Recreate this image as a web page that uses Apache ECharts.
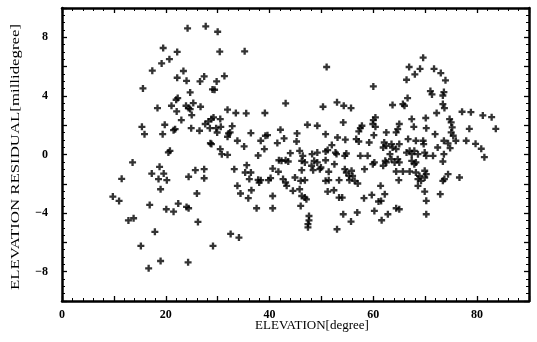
<!DOCTYPE html>
<html>
<head>
<meta charset="utf-8">
<script src="https://cdn.jsdelivr.net/npm/echarts@6/dist/echarts.min.js"></script>
<style>
  html, body { margin: 0; padding: 0; background: #fff; }
  #chart { width: 537px; height: 342px; }
</style>
</head>
<body>
<div id="chart"></div>
<script>
// [elevation (degree), residual (millidegree)], by region

// sparse points: low elevations and outliers
const outerLeft = [
  [9.8, -2.87], [11.0, -3.17], [11.5, -1.66], [12.8, -4.5], [15.2, -6.24], [15.6, 4.51],
  [16.7, -7.77], [17.4, 5.72], [17.9, -5.28], [19.0, -7.27], [19.2, 6.22], [19.5, 7.27],
  [20.7, 6.51], [22.2, 7.0], [22.2, 5.24], [23.4, 5.70], [24.0, 5.03], [24.2, 8.61],
  [24.3, -7.36], [26.2, -4.6], [26.6, 4.99], [27.4, 5.33], [27.7, 8.75], [29.0, 4.44],
  [29.4, 4.42], [29.1, -6.24], [29.8, 4.99], [30.0, 8.38], [30.4, 7.02], [31.3, 5.35],
  [32.5, -5.42], [34.1, -5.67], [35.2, 7.04]
]

const outerRight = [
  [51.0, 5.97], [60.0, 4.65], [66.4, 5.1], [66.6, 3.85], [66.9, 5.97], [68.0, 5.47],
  [69.0, 5.85], [69.6, 6.61], [71.0, 4.33], [71.3, 4.1], [71.7, 5.85], [73.0, 5.56],
  [73.4, 4.03], [73.6, 4.26], [73.9, 5.06], [78.5, 1.75], [78.8, 2.89], [79.7, 0.73],
  [80.8, 0.39], [81.1, 2.67], [81.4, -0.18], [82.8, 2.55], [83.6, 1.75]
]

// 13 - 31 degree
const band20 = [
  [24.7, 4.24], [22.3, 3.85], [22.0, 3.74], [21.1, 3.33], [23.9, 3.33], [24.4, 3.17],
  [24.7, 3.10], [25.3, 3.51], [26.7, 3.26], [18.4, 3.17], [22.1, 2.94], [25.0, 2.69],
  [23.0, 2.35], [19.8, 2.03], [15.4, 1.89], [27.6, 2.08], [28.2, 2.26], [28.8, 2.42],
  [29.2, 2.53], [30.5, 2.42], [28.5, 1.80], [29.7, 1.80], [30.6, 1.89], [15.9, 1.39],
  [19.4, 1.39], [21.5, 1.66], [21.8, 1.73], [24.9, 1.80], [26.5, 1.62], [29.9, 1.50],
  [28.6, 0.77], [28.8, 0.71], [30.5, 0.37], [30.8, 0.02], [20.5, 0.14], [20.8, 0.25],
  [13.6, -0.54], [18.8, -0.84], [17.3, -1.30], [19.6, -1.30], [18.6, -1.68], [20.2, -1.75],
  [25.7, -1.07], [27.4, -1.0], [27.4, -1.62], [24.4, -1.52], [19.0, -2.37], [26.0, -2.66],
  [16.9, -3.44], [22.4, -3.35], [20.1, -3.74], [21.5, -3.9], [24.0, -3.58], [24.4, -3.67],
  [13.8, -4.35]
]

// 31 - 48 degree
const band40 = [
  [43.1, 3.49], [33.5, 2.83], [35.5, 2.81], [39.1, 2.83], [47.3, 2.03], [32.8, 1.94],
  [31.9, 3.06], [32.1, 1.44], [31.9, 1.21], [32.4, 1.51], [31.9, -0.02], [36.4, 1.46],
  [39.6, 1.32], [39.2, 1.28], [42.1, 1.69], [45.3, 1.44], [33.8, 0.94], [38.3, 0.94],
  [42.8, 1.10], [41.5, 0.78], [45.2, 0.89], [35.1, 0.55], [39.0, 0.37], [37.8, -0.07],
  [44.0, 0.09], [45.8, 0.25], [46.4, -0.09], [41.8, -0.39], [42.3, -0.43], [43.1, -0.39],
  [43.6, -0.48], [46.2, -0.43], [46.8, -0.54], [35.6, -0.73], [33.2, -1.0], [40.6, -0.96],
  [46.2, -1.07], [41.7, -1.18], [35.3, -1.23], [36.4, -1.23], [36.1, -1.68], [37.8, -1.73],
  [38.3, -1.75], [38.0, -1.91], [39.8, -1.75], [40.2, -1.61], [42.6, -1.68], [43.1, -1.91],
  [43.3, -2.14], [44.9, -1.57], [46.0, -1.80], [46.8, -1.75], [33.8, -2.14], [36.5, -2.44],
  [44.5, -2.48], [45.8, -2.37], [34.4, -2.66], [35.9, -2.98], [40.6, -2.83], [46.2, -2.83],
  [46.8, -2.94], [47.1, -3.06], [37.5, -3.67], [40.6, -3.67], [46.0, -3.51], [47.6, -4.2],
  [47.6, -4.5], [47.4, -4.75], [47.4, -4.97]
]

// 48 - 63 degree
const band55 = [
  [50.3, 3.26], [53.0, 3.56], [54.3, 3.33], [55.7, 3.17], [49.2, 1.96], [54.2, 2.19],
  [60.4, 2.53], [60.0, 2.35], [59.9, 2.08], [60.4, 1.89], [57.8, 1.96], [57.5, 1.80],
  [57.2, 1.58], [62.5, 1.51], [50.8, 1.39], [53.1, 1.16], [54.6, 1.01], [56.7, 1.05],
  [57.2, 0.89], [60.1, 1.32], [59.2, 0.82], [52.0, 0.64], [62.1, 0.82], [62.5, 0.59],
  [61.9, 0.48], [51.2, 0.30], [50.8, 0.21], [48.2, 0.03], [49.2, 0.13], [52.7, 0.13],
  [52.9, 0.03], [54.8, 0.07], [54.5, -0.09], [57.5, -0.09], [58.9, -0.09], [48.6, -0.43],
  [49.2, -0.54], [50.8, -0.39], [52.5, -0.66], [60.2, -0.54], [59.9, -0.66], [61.9, -0.77],
  [62.5, -0.54], [62.3, -0.43], [48.1, -0.77], [48.4, -1.07], [49.7, -1.0], [49.9, -0.89],
  [51.4, -1.18], [54.5, -1.0], [54.8, -1.23], [55.3, -1.46], [55.8, -1.11], [56.0, -1.46],
  [55.4, -1.75], [58.3, -1.0], [50.8, -1.80], [51.4, -1.75], [53.4, -1.75], [56.4, -1.80],
  [57.0, -1.98], [61.4, -2.14], [51.2, -2.53], [52.4, -2.44], [53.4, -2.94], [54.0, -2.94],
  [58.2, -2.98], [59.7, -2.76], [62.2, -2.71], [61.5, -3.17], [61.0, -3.21], [54.2, -4.08],
  [56.9, -3.96], [55.7, -4.58], [60.2, -3.85], [61.6, -4.49], [62.8, -4.08], [53.0, -5.1]
]

// 63 - 78 degree
const band70 = [
  [63.7, 3.38], [65.7, 3.44], [66.0, 3.33], [73.7, 3.17], [73.4, 3.44], [77.1, 2.92],
  [72.2, 2.83], [67.4, 2.42], [70.1, 2.49], [74.7, 2.42], [75.0, 2.19], [75.2, 1.85],
  [75.0, 1.51], [75.4, 1.28], [67.8, 1.89], [70.2, 1.80], [65.0, 2.08], [64.7, 1.73],
  [64.4, 1.51], [71.9, 1.39], [66.7, 1.05], [68.2, 0.94], [69.6, 0.94], [69.7, 0.71],
  [73.6, 0.94], [74.4, 0.76], [75.9, 0.94], [77.9, 0.94], [72.4, 0.48], [74.8, 0.44],
  [63.5, 0.71], [63.7, 0.48], [64.4, 0.37], [65.0, 0.71], [66.4, 0.13], [67.0, 0.25],
  [67.4, 0.02], [67.9, 0.25], [68.6, 0.02], [69.9, 0.13], [70.2, -0.09], [71.5, -0.09],
  [73.6, 0.02], [63.2, 0.02], [63.5, -0.32], [64.1, -0.54], [64.7, -0.32], [65.0, -0.54],
  [67.4, -0.43], [67.9, -0.66], [68.2, -0.54], [73.4, -0.48], [64.4, -1.16], [65.7, -1.16],
  [67.0, -1.16], [68.2, -1.23], [68.9, -1.46], [68.6, -1.68], [69.2, -1.80], [69.9, -1.11],
  [70.2, -1.34], [69.9, -1.57], [64.9, -1.75], [68.6, -2.14], [74.4, -1.34], [73.7, -1.68],
  [73.4, -1.80], [76.6, -1.57], [69.9, -2.53], [70.2, -3.16], [72.9, -2.71], [64.4, -3.67],
  [65.0, -3.74], [70.2, -4.08]
]

const residuals = [...outerLeft, ...outerRight, ...band20, ...band40, ...band55, ...band70]

const serif = '"Liberation Serif", "DejaVu Serif", serif'
const plus = 'path://M3,0H6V3H9V6H6V9H3V6H0V3H3Z'

const frameAxis = (extra) => ({
  type: 'value',
  axisLine: { show: true, onZero: false, lineStyle: { color: '#000', width: 2.5 } },
  axisTick: { show: true, inside: true, length: 5, lineStyle: { color: '#000', width: 1.3 } },
  splitLine: { show: false },
  ...extra,
})

const chart = echarts.init(document.getElementById('chart'))

const option = {
  animation: false,
  backgroundColor: '#fff',
  grid: { left: 62, right: 8, top: 8, bottom: 41 },
  xAxis: [
    frameAxis({
      min: 0, max: 90, interval: 10, position: 'bottom',
      minorTick: { show: true, splitNumber: 5, length: 3, lineStyle: { color: '#000', width: 1 } },
      axisLabel: {
        margin: 8, color: '#000', fontFamily: serif, fontWeight: 'bold', fontSize: 12,
        formatter: v => (v % 20 === 0 && v < 90 ? String(v) : ''),
      },
    }),
    frameAxis({
      min: 0, max: 90, interval: 10, position: 'top',
      minorTick: { show: true, splitNumber: 5, length: 3, lineStyle: { color: '#000', width: 1 } },
      axisLabel: { show: false },
    }),
  ],
  yAxis: [
    frameAxis({
      min: -10, max: 10, interval: 2, position: 'left',
      minorTick: { show: true, splitNumber: 4, length: 3, lineStyle: { color: '#000', width: 1 } },
      axisLabel: {
        margin: 14, color: '#000', fontFamily: serif, fontWeight: 'bold', fontSize: 12,
        formatter: v => (v % 4 === 0 && Math.abs(v) < 10 ? String(v).replace('-', '\u2212') : ''),
      },
    }),
    frameAxis({
      min: -10, max: 10, interval: 2, position: 'right',
      minorTick: { show: true, splitNumber: 4, length: 3, lineStyle: { color: '#000', width: 1 } },
      axisLabel: { show: false },
    }),
  ],
  graphic: [
    {
      type: 'text', x: 312, y: 326,
      style: { text: 'ELEVATION[degree]', textAlign: 'center', textVerticalAlign: 'middle',
        font: '13px ' + serif, fill: '#000' },
    },
    {
      type: 'text', x: 16, y: 157, rotation: Math.PI / 2, scaleX: 1.4,
      style: { text: 'ELEVATION RESIDUAL[millidegree]', textAlign: 'center', textVerticalAlign: 'middle',
        font: '12px ' + serif, fill: '#000' },
    },
  ],
  series: [
    {
      type: 'scatter',
      xAxisIndex: 0,
      yAxisIndex: 0,
      data: residuals,
      symbol: plus,
      symbolSize: 7,
      itemStyle: { color: '#000' },
    },
  ],
}

chart.setOption(option)
</script>
</body>
</html>
